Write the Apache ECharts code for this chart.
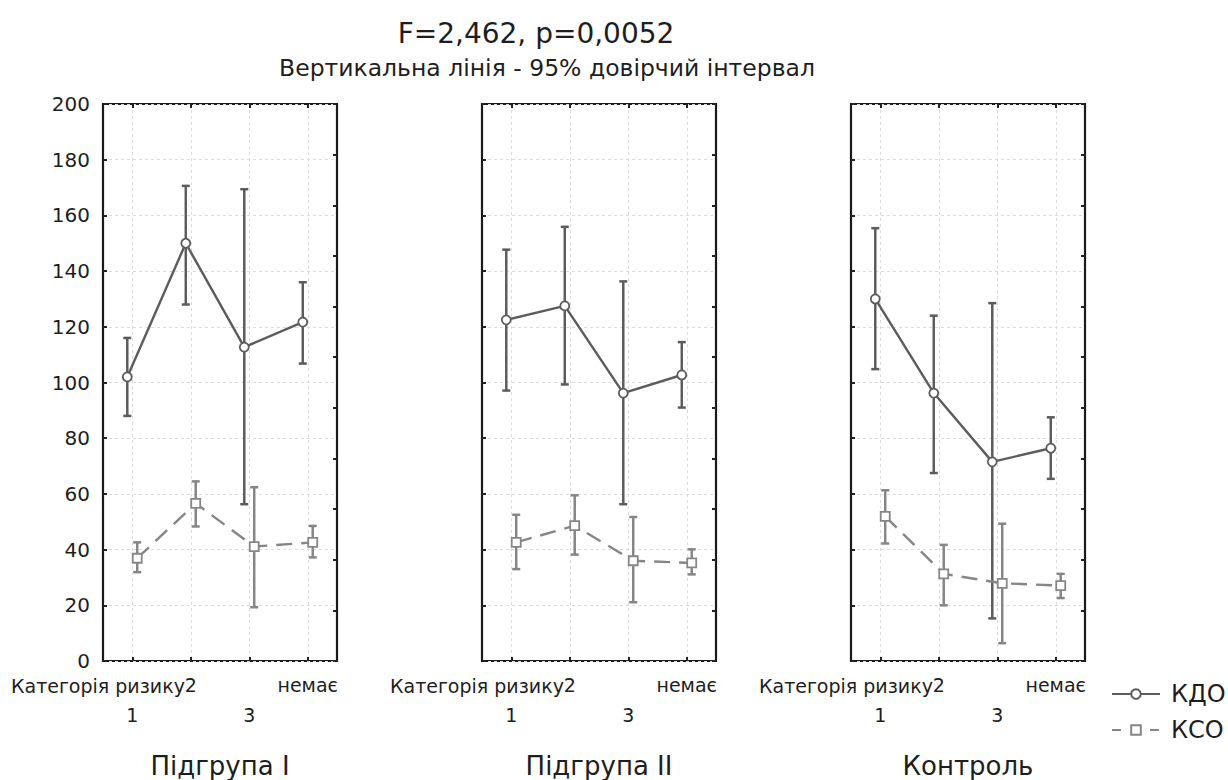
<!DOCTYPE html>
<html>
<head>
<meta charset="utf-8">
<script src="https://cdn.jsdelivr.net/npm/echarts@6/dist/echarts.min.js"></script>
<style>
  html, body { margin: 0; background: #fff; }
  #main { width: 1228px; height: 780px; }
</style>
</head>
<body>
<div id="main"></div>
<script>
// категорії ризику та групи
const categories = ['1', '2', '3', 'немає'];
const groups = ['Підгрупа I', 'Підгрупа II', 'Контроль'];

// КДО: середнє та межі 95% ДІ, по групах
const kdoMean = [[102, 150, 112.7, 121.7], [122.5, 127.5, 96.2, 102.7], [130, 96.2, 71.5, 76.4]];
const kdoLow = [[88, 128, 56.3, 106.8], [97.1, 99.3, 56.3, 91], [104.8, 67.5, 15.3, 65.4]];
const kdoHigh = [[116, 170.6, 169.4, 136], [147.7, 155.9, 136.3, 114.5], [155.4, 124, 128.5, 87.5]];

// КСО
const ksoMean = [[36.9, 56.6, 41.1, 42.6], [42.6, 48.6, 36, 35.2], [51.9, 31.3, 27.9, 27.1]];
const ksoLow = [[31.9, 48.3, 19.3, 37.2], [33, 38.2, 21.1, 31.1], [42.2, 20, 6.4, 22.6]];
const ksoHigh = [[42.6, 64.5, 62.4, 48.5], [52.5, 59.5, 51.7, 40.1], [61.3, 41.7, 49.3, 31.3]];

const FONT = '"DejaVu Sans", sans-serif';
const TEXT = '#1e1e1e';
const KDO_COLOR = '#5c5c5c';
const KSO_COLOR = '#868686';
const gridLefts = [103, 482, 851];
const gridW = 234, gridTop = 104, gridH = 557;
const shift = 0.085; // зсув точок двох рядів у межах категорії

const myChart = echarts.init(document.getElementById('main'), null, { renderer: 'svg' });

function errorBar(color) {
  return function (params, api) {
    const x = api.value(0);
    const lo = api.coord([x, api.value(1)]);
    const hi = api.coord([x, api.value(2)]);
    const w = 4;
    const style = { stroke: color, lineWidth: 2.5, fill: null };
    return {
      type: 'group',
      children: [
        { type: 'line', shape: { x1: lo[0], y1: lo[1], x2: hi[0], y2: hi[1] }, style: style },
        { type: 'line', shape: { x1: lo[0] - w, y1: lo[1], x2: lo[0] + w, y2: lo[1] }, style: style },
        { type: 'line', shape: { x1: hi[0] - w, y1: hi[1], x2: hi[0] + w, y2: hi[1] }, style: style }
      ]
    };
  };
}

const tickStyle = { show: true, inside: true, length: 4, lineStyle: { color: '#222', width: 2 } };
const noLine = { show: false, onZero: false };
const dashed = { show: true, lineStyle: { color: '#dcdcdc', type: [3, 3], width: 1 } };

const grid = [], xAxis = [], yAxis = [], series = [], graphic = [];

groups.forEach(function (g, gi) {
  grid.push({
    left: gridLefts[gi], top: gridTop, width: gridW, height: gridH,
    show: true, borderColor: '#1a1a1a', borderWidth: 2.2, backgroundColor: 'transparent'
  });
  // видима вісь категорій
  xAxis.push({
    type: 'category', gridIndex: gi, position: 'bottom', data: categories,
    axisLine: noLine,
    axisTick: Object.assign({ alignWithLabel: true }, tickStyle),
    splitLine: Object.assign({ alignWithLabel: true }, dashed),
    axisLabel: {
      interval: 0, margin: 9, color: TEXT, fontFamily: FONT, fontSize: 19, lineHeight: 30,
      formatter: function (v, i) { return i % 2 === 0 ? '\n' + v : v; }
    }
  });
  xAxis.push({
    type: 'category', gridIndex: gi, position: 'top', data: categories,
    axisLine: noLine, axisLabel: { show: false },
    axisTick: Object.assign({ alignWithLabel: true }, tickStyle), splitLine: { show: false }
  });
  // приховані осі для зсуву рядів
  xAxis.push({ type: 'value', gridIndex: gi, min: -0.5 + shift, max: 3.5 + shift, show: false, axisLine: noLine });
  xAxis.push({ type: 'value', gridIndex: gi, min: -0.5 - shift, max: 3.5 - shift, show: false, axisLine: noLine });

  yAxis.push({
    type: 'value', gridIndex: gi, position: 'left', min: 0, max: 200, interval: 20,
    axisLine: noLine, axisTick: tickStyle, splitLine: dashed,
    axisLabel: { show: gi === 0, margin: 13, color: TEXT, fontFamily: FONT, fontSize: 20 }
  });
  yAxis.push({
    type: 'value', gridIndex: gi, position: 'right', min: 0, max: 11, interval: 1,
    axisLine: noLine, axisTick: tickStyle, splitLine: { show: false },
    axisLabel: { show: false }
  });

  const xi = gi * 4, yi = gi * 2;
  series.push({
    name: 'КДО', type: 'line', xAxisIndex: xi + 2, yAxisIndex: yi, z: 5,
    data: kdoMean[gi].map(function (v, i) { return [i, v]; }),
    symbol: 'circle', symbolSize: 9, showSymbol: true,
    lineStyle: { color: KDO_COLOR, width: 2.4 },
    itemStyle: { color: '#fff', borderColor: KDO_COLOR, borderWidth: 1.8 },
    animation: false
  });
  series.push({
    name: 'КСО', type: 'line', xAxisIndex: xi + 3, yAxisIndex: yi, z: 5,
    data: ksoMean[gi].map(function (v, i) { return [i, v]; }),
    symbol: 'rect', symbolSize: 9, showSymbol: true,
    lineStyle: { color: KSO_COLOR, width: 2.4, type: [16, 9] },
    itemStyle: { color: '#fff', borderColor: KSO_COLOR, borderWidth: 1.8 },
    animation: false
  });
  series.push({
    name: 'ДІ КДО', type: 'custom', xAxisIndex: xi + 2, yAxisIndex: yi, z: 3,
    renderItem: errorBar(KDO_COLOR), encode: { x: 0, y: [1, 2] },
    data: kdoLow[gi].map(function (v, i) { return [i, v, kdoHigh[gi][i]]; }),
    animation: false
  });
  series.push({
    name: 'ДІ КСО', type: 'custom', xAxisIndex: xi + 3, yAxisIndex: yi, z: 3,
    renderItem: errorBar(KSO_COLOR), encode: { x: 0, y: [1, 2] },
    data: ksoLow[gi].map(function (v, i) { return [i, v, ksoHigh[gi][i]]; }),
    animation: false
  });

  graphic.push({
    type: 'text', x: gridLefts[gi] - 92, y: 686,
    style: { text: 'Категорія ризику', font: '19px ' + FONT, fill: TEXT, align: 'left', verticalAlign: 'middle' }
  });
  graphic.push({
    type: 'text', x: gridLefts[gi] + gridW / 2, y: 766,
    style: { text: g, font: '26px ' + FONT, fill: TEXT, align: 'center', verticalAlign: 'middle' }
  });
});

graphic.push({
  type: 'text', x: 536, y: 33,
  style: { text: 'F=2,462, p=0,0052', font: '28px ' + FONT, fill: TEXT, align: 'center', verticalAlign: 'middle' }
});
graphic.push({
  type: 'text', x: 547, y: 68,
  style: { text: 'Вертикальна лінія - 95% довірчий інтервал', font: '23.5px ' + FONT, fill: TEXT, align: 'center', verticalAlign: 'middle' }
});

const option = {
  backgroundColor: '#fff',
  animation: false,
  grid: grid,
  xAxis: xAxis,
  yAxis: yAxis,
  legend: {
    data: [
      { name: 'КДО' },
      { name: 'КСО', lineStyle: { type: [9, 10], dashOffset: 0 } }
    ],
    orient: 'vertical', left: 1106, top: 677,
    itemWidth: 48, itemHeight: 12, itemGap: 12, selectedMode: false,
    textStyle: { fontFamily: FONT, fontSize: 24, color: TEXT, padding: [0, 0, 0, 6] }
  },
  series: series,
  graphic: graphic
};

myChart.setOption(option);
</script>
</body>
</html>
